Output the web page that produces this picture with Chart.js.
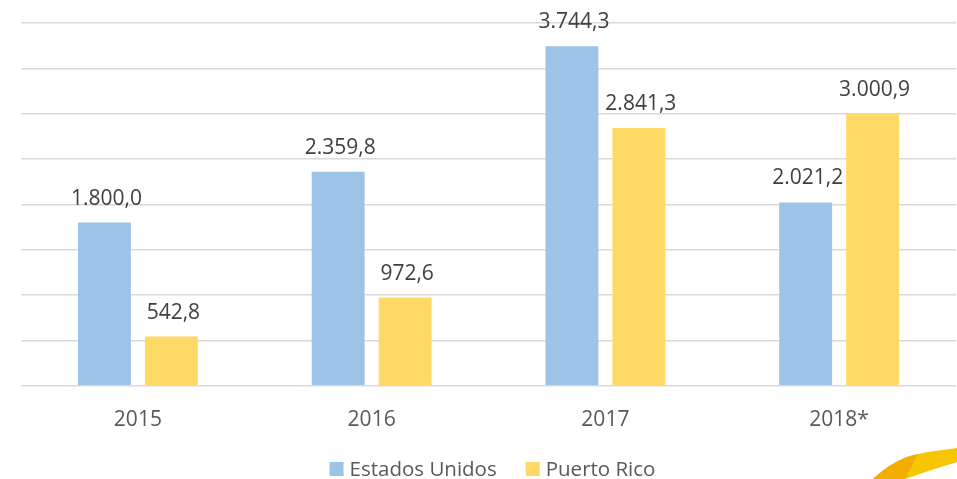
<!DOCTYPE html>
<html>
<head>
<meta charset="utf-8">
<script src="https://cdn.jsdelivr.net/npm/chart.js@4.4.1/dist/chart.umd.min.js"></script>
<style>
  html, body { margin: 0; padding: 0; background: #fff; }
  #wrap { width: 957px; height: 479px; }
</style>
</head>
<body>
<div id="wrap"><canvas id="myChart" width="957" height="479"></canvas></div>
<script>
const categories = ["2015", "2016", "2017", "2018*"];
const estadosUnidos = [1800.0, 2359.8, 3744.3, 2021.2];
const puertoRico = [542.8, 972.6, 2841.3, 3000.9];

const ctx = document.getElementById("myChart");

// format like 1.800,0
function fmt(v) {
  const parts = v.toFixed(1).split(".");
  const intPart = parts[0].replace(/\B(?=(\d{3})+(?!\d))/g, ".");
  return intPart + "," + parts[1];
}

// values above the bars
const barLabels = {
  id: "barLabels",
  afterDatasetsDraw(chart) {
    const c = chart.ctx;
    c.save();
    c.font = "21px 'Open Sans'";
    c.fillStyle = "#404040";
    c.textAlign = "center";
    c.textBaseline = "alphabetic";
    chart.data.datasets.forEach((ds, i) => {
      chart.getDatasetMeta(i).data.forEach((bar, j) => {
        c.fillText(fmt(ds.data[j]), bar.x + 2, bar.y - 18);
      });
    });
    c.restore();
  },
};

// legend drawn by hand so it sits where the original one does
const bottomLegend = {
  id: "bottomLegend",
  afterDraw(chart) {
    const c = chart.ctx;
    const ds = chart.data.datasets;
    const box = 14, gap = 6, between = 29;
    c.save();
    c.font = "20.5px 'Open Sans'";
    c.textBaseline = "middle";
    c.textAlign = "left";
    const widths = ds.map((d) => c.measureText(d.label).width);
    let total = 0;
    widths.forEach((w, i) => { total += box + gap + w + (i ? between : 0); });
    const ca = chart.chartArea;
    let x = (ca.left + ca.right) / 2 + 4 - total / 2;
    const y = 469;
    ds.forEach((d, i) => {
      c.fillStyle = d.backgroundColor;
      c.fillRect(x, y - box / 2, box, box);
      c.fillStyle = "#595959";
      c.fillText(d.label, x + box + gap, y + 1);
      x += box + gap + widths[i] + between;
    });
    c.restore();
  },
};

// bit of the yellow logo cut off in the corner
const cornerLogo = {
  id: "cornerLogo",
  afterDraw(chart) {
    const c = chart.ctx;
    c.save();
    c.fillStyle = "#F7C600";
    c.beginPath();
    c.moveTo(873, 479);
    c.quadraticCurveTo(900, 455, 935, 451);
    c.lineTo(957, 448);
    c.lineTo(957, 462);
    c.quadraticCurveTo(930, 470, 905, 479);
    c.closePath();
    c.fill();
    c.fillStyle = "#F2AE00";
    c.beginPath();
    c.moveTo(873, 479);
    c.quadraticCurveTo(895, 458, 918, 454);
    c.lineTo(905, 479);
    c.closePath();
    c.fill();
    c.restore();
  },
};

new Chart(ctx, {
  type: "bar",
  data: {
    labels: categories,
    datasets: [
      {
        label: "Estados Unidos",
        data: estadosUnidos,
        backgroundColor: "#9DC3E6",
        categoryPercentage: 0.573,
        barPercentage: 0.79,
      },
      {
        label: "Puerto Rico",
        data: puertoRico,
        backgroundColor: "#FFD966",
        categoryPercentage: 0.573,
        barPercentage: 0.79,
      },
    ],
  },
  options: {
    responsive: false,
    animation: false,
    layout: {
      padding: { left: 21, right: 1, top: 23, bottom: 32 },
    },
    scales: {
      x: {
        grid: { display: false },
        border: { display: false },
        ticks: {
          color: "#595959",
          font: { family: "'Open Sans'", size: 21 },
          padding: 14,
        },
      },
      y: {
        min: 0,
        max: 4000,
        ticks: { display: false, stepSize: 500 },
        border: { display: false },
        grid: { color: "#d9d9d9", lineWidth: 1.5, drawTicks: false },
      },
    },
    plugins: {
      legend: { display: false },
      tooltip: { enabled: false },
    },
  },
  plugins: [barLabels, bottomLegend, cornerLogo],
});
</script>
</body>
</html>
